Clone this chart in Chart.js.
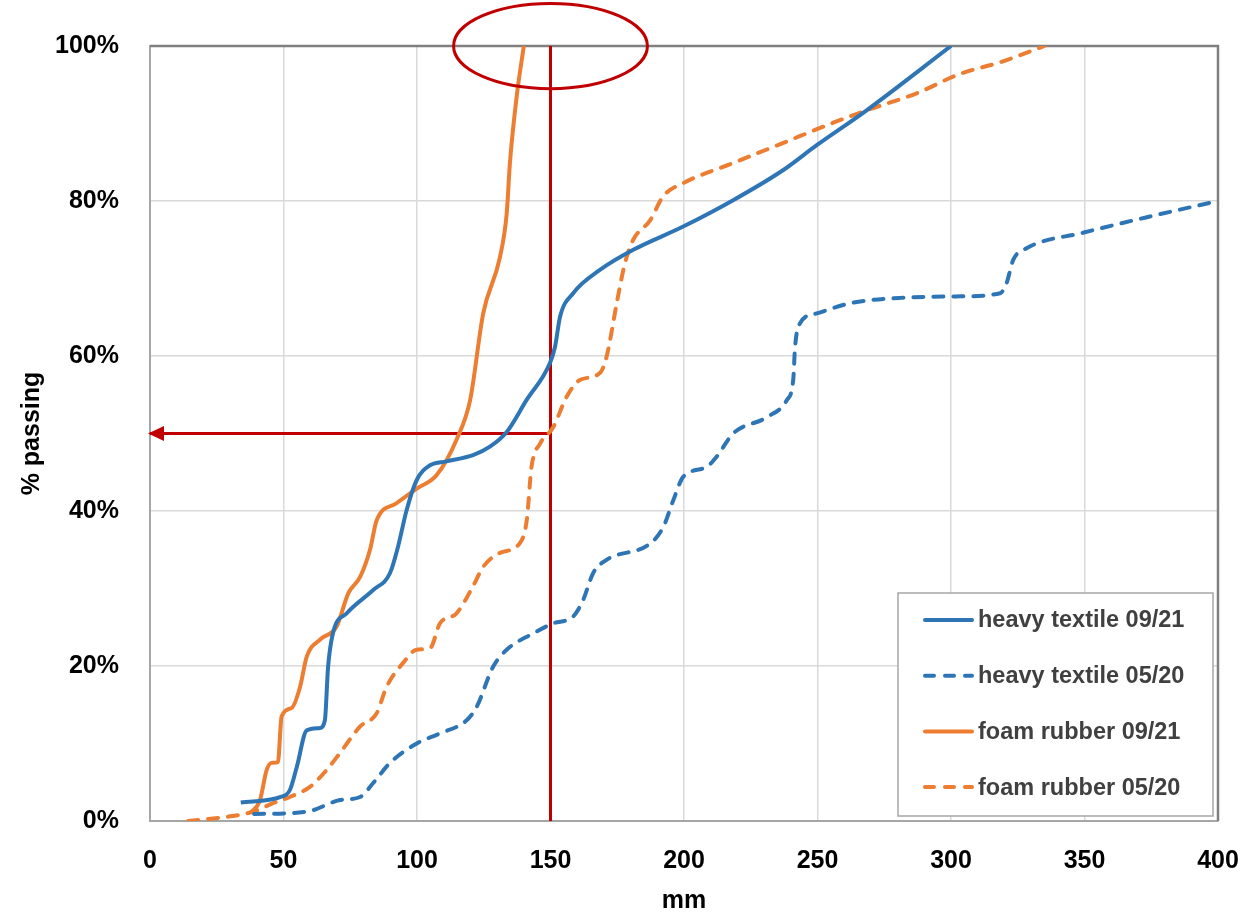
<!DOCTYPE html>
<html>
<head>
<meta charset="utf-8">
<script src="https://cdn.jsdelivr.net/npm/chart.js@4"></script>
<style>
  body { margin: 0; background: #fff; }
  #wrap { width: 1249px; height: 914px; }
</style>
</head>
<body>
<div id="wrap"><canvas id="chart" width="1249" height="914"></canvas></div>
<script>
// particle size distributions (mm vs % passing)
var textile0921Mm  = [34, 49, 52.4, 55, 58.7, 63.7, 65.5, 66.7, 68.5, 73.7, 83.6, 89.9, 92.9, 96.1, 99.9, 104.9, 111, 121, 127.3, 133.6, 141, 149.8, 151.7, 153.6, 158.5, 168.5, 181, 199.7, 218.4, 237.2, 249.7, 268.4, 300];
var textile0921Pct = [2.4, 3.1, 4.0, 7, 11.7, 12.0, 13.0, 19.9, 24.2, 26.8, 29.8, 32, 35.4, 40.1, 44, 45.9, 46.4, 47.2, 48.3, 50.2, 54.3, 59.1, 61.2, 65.1, 68.1, 71.1, 73.7, 76.7, 80.1, 84.0, 87.2, 91.7, 100];

var textile0520Mm  = [39, 58.7, 71.2, 78.7, 83.6, 89.9, 99.9, 108.6, 118.6, 122.3, 128.5, 133.6, 143.5, 151, 158.5, 162.2, 166, 171, 187.3, 192.2, 196, 199.7, 208.5, 212.2, 218.4, 231, 238.5, 240.9, 241.6, 243.4, 249.7, 262.2, 280.9, 303.4, 318.4, 320.8, 323.3, 328.3, 349.4, 374.5, 400];
var textile0520Pct = [0.9, 1.2, 2.7, 3.1, 4.9, 7.5, 10, 11.3, 13, 14.7, 19.9, 22.1, 24.2, 25.5, 26.4, 28.5, 32, 33.7, 35.8, 37.9, 41.4, 44.4, 45.7, 47, 50, 52.1, 54.3, 56.9, 61.2, 64.2, 65.5, 66.8, 67.5, 67.7, 68.1, 69.4, 72.4, 73.9, 75.9, 78, 80];

var foam0921Mm  = [37.5, 41.2, 43.7, 45.6, 47.9, 49.3, 53.1, 56.2, 58.7, 63.7, 69.9, 74.3, 78.7, 82.4, 84.9, 92.3, 99.9, 107.3, 114.8, 119.9, 124.8, 131.1, 133.6, 134.8, 137.3, 140];
var foam0921Pct = [1, 2.7, 6.6, 7.5, 7.6, 13.5, 14.6, 17.3, 21.2, 23.4, 25.1, 29.4, 31.5, 35, 38.8, 41, 42.9, 44.6, 49.2, 54.3, 65.5, 72.8, 78.4, 84.9, 93.4, 100];

var foam0520Mm  = [14.3, 30, 38.7, 46.1, 52.4, 59.9, 66.2, 71.2, 78.7, 84.9, 88.6, 94.8, 99.9, 104.9, 108.6, 114.8, 121, 124.8, 131.1, 138.6, 141.1, 142.9, 146.1, 151, 156, 161, 168.5, 171, 174.8, 177.9, 181, 187.3, 192.2, 199.7, 218.4, 237.2, 255.9, 268.4, 287.1, 303.4, 318.4, 335];
var foam0520Pct = [0, 0.6, 1.2, 2.3, 3.1, 4.4, 6.6, 8.8, 12.2, 13.9, 17.3, 20.4, 22.1, 22.3, 25.5, 26.8, 30.3, 32.8, 34.6, 35.9, 38.8, 45.7, 48.7, 50.8, 54.7, 56.9, 57.8, 59.9, 66.8, 72, 75, 77.5, 80.6, 82.3, 84.9, 87.5, 90.1, 91.7, 93.9, 96.4, 97.9, 100];

var seriesLabels = ['heavy textile 09/21', 'heavy textile 05/20', 'foam rubber 09/21', 'foam rubber 05/20'];

// d50 read-off marker at 150 mm
var cutMm = 150;
var cutPct = 50;
var circleRxMm = 36.3;
var circleRyPct = 5.5;

var BLUE = '#2E75B6';
var ORANGE = '#ED7D31';
var RED = '#C00000';
var FONT = "'Liberation Sans', Arial, sans-serif";

function pts(xs, ys) {
    return xs.map(function (x, i) { return { x: x, y: ys[i] }; });
}

function curve(label, xs, ys, color, dashed) {
    return {
        label: label,
        data: pts(xs, ys),
        borderColor: color,
        backgroundColor: color,
        borderWidth: 4,
        borderDash: dashed ? [10, 10] : [],
        borderCapStyle: dashed ? 'round' : 'butt',
        pointRadius: 0,
        cubicInterpolationMode: 'monotone',
        fill: false
    };
}

// ellipse around the top of the 150 mm line, plus the arrow head at 0 mm
var markerPlugin = {
    id: 'markers',
    afterDatasetsDraw: function (chart) {
        var x = chart.scales.x, y = chart.scales.y, ctx = chart.ctx;
        var cx = x.getPixelForValue(cutMm);
        var cy = y.getPixelForValue(100);
        var rx = x.getPixelForValue(cutMm + circleRxMm) - cx;
        var ry = y.getPixelForValue(100 - circleRyPct) - cy;
        ctx.save();
        ctx.strokeStyle = RED;
        ctx.lineWidth = 3;
        ctx.beginPath();
        ctx.ellipse(cx, cy, rx, ry, 0, 0, Math.PI * 2);
        ctx.stroke();

        var tipX = x.getPixelForValue(0) - 2;
        var ay = y.getPixelForValue(cutPct);
        ctx.fillStyle = RED;
        ctx.beginPath();
        ctx.moveTo(tipX, ay);
        ctx.lineTo(tipX + 16, ay - 7.5);
        ctx.lineTo(tipX + 16, ay + 7.5);
        ctx.closePath();
        ctx.fill();
        ctx.restore();
    }
};

// boxed legend in the lower right corner of the plot
var legendBox = {
    id: 'legendBox',
    afterDraw: function (chart) {
        var ctx = chart.ctx, a = chart.chartArea;
        var w = 315, h = 223;
        var left = a.right - w - 5, top = a.bottom - h - 5;
        ctx.save();
        ctx.fillStyle = '#fff';
        ctx.fillRect(left, top, w, h);
        ctx.strokeStyle = '#a6a6a6';
        ctx.lineWidth = 1.5;
        ctx.strokeRect(left, top, w, h);
        ctx.font = 'bold 23.5px ' + FONT;
        ctx.textBaseline = 'middle';
        for (var i = 0; i < 4; i++) {
            var ds = chart.data.datasets[i];
            var yy = top + 27 + i * 55.7;
            ctx.strokeStyle = ds.borderColor;
            ctx.lineWidth = 4;
            ctx.lineCap = 'round';
            ctx.setLineDash(ds.borderDash.length ? [9, 11] : []);
            ctx.beginPath();
            ctx.moveTo(left + 27, yy);
            ctx.lineTo(left + 74, yy);
            ctx.stroke();
            ctx.setLineDash([]);
            ctx.fillStyle = '#404040';
            ctx.fillText(ds.label, left + 80, yy + 1);
        }
        ctx.restore();
    }
};

// darker frame on the top and right of the plot
var framePlugin = {
    id: 'frame',
    beforeDatasetsDraw: function (c) {
        var a = c.chartArea, g = c.ctx;
        g.save();
        g.strokeStyle = '#808080';
        g.lineWidth = 2.5;
        g.beginPath();
        g.moveTo(a.left, a.top);
        g.lineTo(a.right, a.top);
        g.lineTo(a.right, a.bottom);
        g.stroke();
        g.restore();
    }
};

var ctx = document.getElementById('chart').getContext('2d');

var chart = new Chart(ctx, {
    type: 'line',
    data: {
        datasets: [
            curve(seriesLabels[0], textile0921Mm, textile0921Pct, BLUE, false),
            curve(seriesLabels[1], textile0520Mm, textile0520Pct, BLUE, true),
            curve(seriesLabels[2], foam0921Mm, foam0921Pct, ORANGE, false),
            curve(seriesLabels[3], foam0520Mm, foam0520Pct, ORANGE, true),
            {
                label: 'cut',
                data: [{ x: cutMm, y: 0 }, { x: cutMm, y: 100 }],
                borderColor: RED,
                borderWidth: 3,
                pointRadius: 0,
                tension: 0
            },
            {
                label: 'arrow',
                data: [{ x: 0, y: cutPct }, { x: cutMm, y: cutPct }],
                borderColor: RED,
                borderWidth: 3,
                pointRadius: 0,
                tension: 0
            }
        ]
    },
    options: {
        responsive: false,
        animation: false,
        layout: { padding: { top: 46, right: 31, left: 0, bottom: 0 } },
        plugins: {
            legend: { display: false },
            tooltip: { enabled: false }
        },
        scales: {
            x: {
                type: 'linear',
                min: 0,
                max: 400,
                afterFit: function (s) { s.height = 93; s.paddingLeft = 0; s.paddingRight = 0; },
                ticks: {
                    stepSize: 50,
                    padding: 25,
                    color: '#000',
                    font: { family: FONT, size: 25, weight: 'bold' }
                },
                grid: { color: '#d9d9d9', lineWidth: 1.5, drawTicks: false },
                border: { color: '#a6a6a6', width: 2 },
                title: {
                    display: true,
                    text: 'mm',
                    color: '#000',
                    padding: { top: 0, bottom: 0 },
                    font: { family: FONT, size: 25, weight: 'bold', lineHeight: 1 }
                }
            },
            y: {
                min: 0,
                max: 100,
                afterFit: function (s) { s.width = 150; },
                ticks: {
                    stepSize: 20,
                    padding: 31,
                    color: '#000',
                    font: { family: FONT, size: 25, weight: 'bold' },
                    callback: function (v) { return v + '%'; }
                },
                grid: { color: '#d9d9d9', lineWidth: 1.5, drawTicks: false },
                border: { color: '#a6a6a6', width: 2 },
                title: {
                    display: true,
                    text: '% passing',
                    color: '#000',
                    padding: { top: 20, bottom: 0 },
                    font: { family: FONT, size: 25, weight: 'bold', lineHeight: 1 }
                }
            }
        }
    },
    plugins: [framePlugin, markerPlugin, legendBox]
});
</script>
</body>
</html>
